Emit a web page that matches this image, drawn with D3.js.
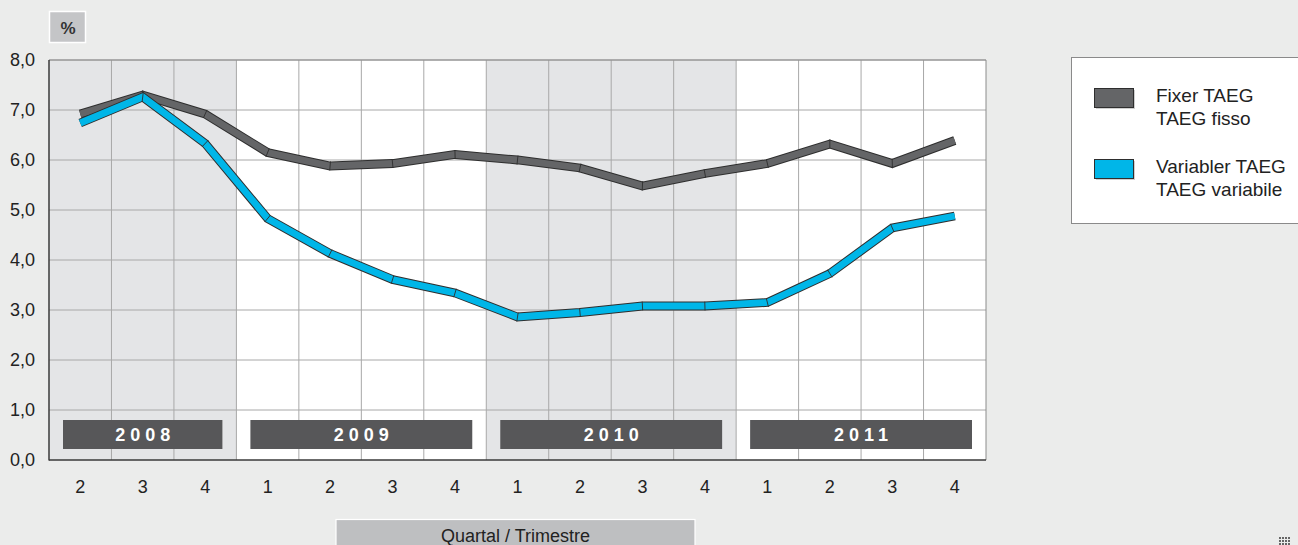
<!DOCTYPE html>
<html>
<head>
<meta charset="utf-8">
<script src="https://cdn.jsdelivr.net/npm/d3@7"></script>
<style>
  body { margin: 0; background: #ebeceb; }
  svg { display: block; font-family: "Liberation Sans", Arial, sans-serif; }
</style>
</head>
<body>
<svg id="chart" width="1298" height="545"></svg>
<script>
// quarters shown on the x axis
const years = ['2008', '2009', '2010', '2011'];
const quarters = [
  ['2008', 2], ['2008', 3], ['2008', 4],
  ['2009', 1], ['2009', 2], ['2009', 3], ['2009', 4],
  ['2010', 1], ['2010', 2], ['2010', 3], ['2010', 4],
  ['2011', 1], ['2011', 2], ['2011', 3], ['2011', 4]
];
const fixedRate = [6.92, 7.30, 6.92, 6.15, 5.88, 5.93, 6.11, 6.00, 5.84, 5.48, 5.73, 5.93, 6.32, 5.93, 6.39];
const variableRate = [6.74, 7.26, 6.33, 4.83, 4.13, 3.61, 3.34, 2.86, 2.95, 3.08, 3.08, 3.15, 3.73, 4.64, 4.88];
const yTicks = [0, 1, 2, 3, 4, 5, 6, 7, 8];
const series = [
  {name: ['Fixer TAEG', 'TAEG fisso'], values: fixedRate, color: '#646567'},
  {name: ['Variabler TAEG', 'TAEG variabile'], values: variableRate, color: '#00b6e8'}
];

const svg = d3.select('#chart');
const plotL = 49, plotR = 986, plotT = 60, plotB = 460;

const ids = quarters.map((q, i) => i);
const x = d3.scaleBand().domain(ids).range([plotL, plotR]).padding(0);
const y = d3.scaleLinear().domain([0, 8]).range([plotB, plotT]);
const fmt = v => d3.format('.1f')(v).replace('.', ',');

// plot background + shaded years
svg.append('rect')
  .attr('x', plotL).attr('y', plotT)
  .attr('width', plotR - plotL).attr('height', plotB - plotT)
  .attr('fill', '#ffffff');

years.forEach((yr, k) => {
  const idx = ids.filter(i => quarters[i][0] === yr);
  const x0 = x(idx[0]), x1 = x(idx[idx.length - 1]) + x.bandwidth();
  if (k % 2 === 0) {
    svg.append('rect')
      .attr('x', x0).attr('y', plotT)
      .attr('width', x1 - x0).attr('height', plotB - plotT)
      .attr('fill', '#e4e5e7');
  }
});

// grid
svg.append('g')
  .selectAll('line')
  .data(yTicks.slice(1))
  .join('line')
  .attr('x1', plotL).attr('x2', plotR)
  .attr('y1', d => y(d)).attr('y2', d => y(d))
  .attr('stroke', '#a8a8a8').attr('stroke-width', 1);

svg.append('g')
  .selectAll('line')
  .data(ids.slice(1))
  .join('line')
  .attr('x1', d => x(d)).attr('x2', d => x(d))
  .attr('y1', plotT).attr('y2', plotB)
  .attr('stroke', '#a8a8a8').attr('stroke-width', 1);

// frame
svg.append('line').attr('x1', plotL).attr('x2', plotR).attr('y1', plotT).attr('y2', plotT)
  .attr('stroke', '#8c8c8c');
svg.append('line').attr('x1', plotR).attr('x2', plotR).attr('y1', plotT).attr('y2', plotB)
  .attr('stroke', '#8c8c8c');
svg.append('line').attr('x1', plotL).attr('x2', plotL).attr('y1', plotT).attr('y2', plotB + 0.5)
  .attr('stroke', '#3a3a3a').attr('stroke-width', 1.5);
svg.append('line').attr('x1', plotL).attr('x2', plotR).attr('y1', plotB).attr('y2', plotB)
  .attr('stroke', '#3a3a3a').attr('stroke-width', 1.5);

// year bars
years.forEach(yr => {
  const idx = ids.filter(i => quarters[i][0] === yr);
  const x0 = x(idx[0]) + 14, x1 = x(idx[idx.length - 1]) + x.bandwidth() - 14;
  svg.append('rect')
    .attr('x', x0).attr('y', 420)
    .attr('width', x1 - x0).attr('height', 29)
    .attr('fill', '#575759');
  svg.append('text')
    .attr('x', (x0 + x1) / 2 + 2.5).attr('y', 441)
    .attr('text-anchor', 'middle')
    .attr('fill', '#ffffff')
    .attr('font-size', 18).attr('font-weight', 'bold')
    .attr('letter-spacing', 5)
    .text(yr);
});

// y axis labels
svg.append('g')
  .attr('transform', `translate(${plotL},0)`)
  .call(d3.axisLeft(y).tickValues(yTicks).tickFormat(fmt).tickSize(0).tickPadding(14))
  .call(g => g.select('.domain').remove())
  .call(g => g.selectAll('text')
    .attr('font-size', 18).attr('fill', '#222')
    .attr('font-family', '"Liberation Sans", Arial, sans-serif'));

// x axis labels
svg.append('g')
  .attr('transform', `translate(0,${plotB})`)
  .call(d3.axisBottom(x).tickFormat(i => quarters[i][1]).tickSize(0).tickPadding(20))
  .call(g => g.select('.domain').remove())
  .call(g => g.selectAll('text')
    .attr('font-size', 18).attr('fill', '#222')
    .attr('font-family', '"Liberation Sans", Arial, sans-serif'));

// ribbon lines
const half = 3.4;
function drawRibbon(s) {
  const pts = s.values.map((v, i) => [x(i) + x.bandwidth() / 2, y(v)]);
  const g = svg.append('g');
  g.append('path')
    .attr('d', d3.line()(pts))
    .attr('fill', 'none')
    .attr('stroke', '#2e2e2e')
    .attr('stroke-width', half * 2 + 2)
    .attr('stroke-linejoin', 'miter');
  g.append('path')
    .attr('d', d3.line()(pts))
    .attr('fill', 'none')
    .attr('stroke', s.color)
    .attr('stroke-width', half * 2)
    .attr('stroke-linejoin', 'miter');
  // segment separators at every joint
  for (let i = 1; i < pts.length - 1; i++) {
    const a = pts[i - 1], b = pts[i], c = pts[i + 1];
    const n = (p, q) => {
      const dx = q[0] - p[0], dy = q[1] - p[1], l = Math.hypot(dx, dy);
      return [-dy / l, dx / l];
    };
    const n1 = n(a, b), n2 = n(b, c);
    let m = [n1[0] + n2[0], n1[1] + n2[1]];
    const ml = Math.hypot(m[0], m[1]);
    m = [m[0] / ml, m[1] / ml];
    const len = (half + 1) / Math.max(0.3, m[0] * n1[0] + m[1] * n1[1]);
    g.append('line')
      .attr('x1', b[0] - m[0] * len).attr('y1', b[1] - m[1] * len)
      .attr('x2', b[0] + m[0] * len).attr('y2', b[1] + m[1] * len)
      .attr('stroke', '#2e2e2e').attr('stroke-width', 0.9);
  }
}
series.forEach(drawRibbon);

// % box
svg.append('rect')
  .attr('x', 49.5).attr('y', 11.5).attr('width', 36).attr('height', 31)
  .attr('fill', '#c4c5c7').attr('stroke', '#ffffff').attr('stroke-width', 1.5);
svg.append('text')
  .attr('x', 68).attr('y', 34)
  .attr('text-anchor', 'middle')
  .attr('font-size', 17).attr('font-weight', 'bold').attr('fill', '#333')
  .text('%');

// x axis title box
svg.append('rect')
  .attr('x', 336).attr('y', 519.5).attr('width', 359).attr('height', 30)
  .attr('fill', '#bebfc1').attr('stroke', '#ffffff').attr('stroke-width', 1.2);
svg.append('text')
  .attr('x', 515.5).attr('y', 542)
  .attr('text-anchor', 'middle')
  .attr('font-size', 18).attr('fill', '#222')
  .text('Quartal / Trimestre');

// legend
const legend = svg.append('g');
legend.append('rect')
  .attr('x', 1071.5).attr('y', 57.5).attr('width', 240).attr('height', 166)
  .attr('fill', '#ffffff').attr('stroke', '#8a8a8a').attr('stroke-width', 1);
series.forEach((s, i) => {
  const yy = 88 + i * 71;
  legend.append('rect')
    .attr('x', 1096).attr('y', yy + 2).attr('width', 39).attr('height', 19)
    .attr('fill', '#cfcfcf');
  legend.append('rect')
    .attr('x', 1094.5).attr('y', yy + 0.5).attr('width', 39).attr('height', 19)
    .attr('fill', s.color).attr('stroke', '#2e2e2e').attr('stroke-width', 1);
  s.name.forEach((t, j) => {
    legend.append('text')
      .attr('x', 1156).attr('y', yy + 14 + j * 22.5)
      .attr('font-size', 19).attr('fill', '#222')
      .text(t);
  });
});

// small dotted mark bottom right
const dots = svg.append('g').attr('fill', '#666');
for (let r = 0; r < 3; r++) {
  for (let c = 0; c < 4; c++) {
    dots.append('rect')
      .attr('x', 1279 + c * 3).attr('y', 537 + r * 3)
      .attr('width', 2).attr('height', 2);
  }
}
</script>
</body>
</html>
